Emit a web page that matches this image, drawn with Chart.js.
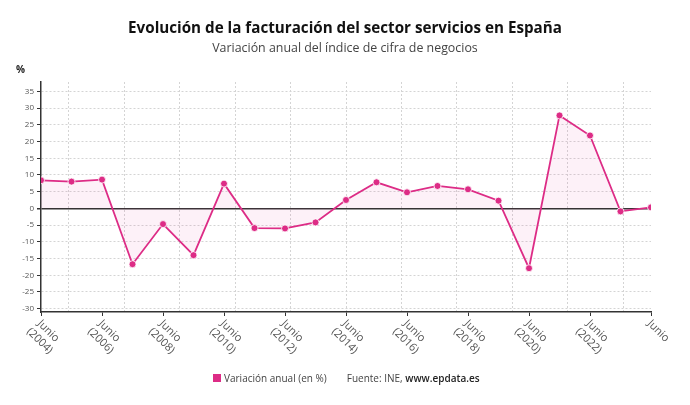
<!DOCTYPE html>
<html>
<head>
<meta charset="utf-8">
<script src="https://cdn.jsdelivr.net/npm/chart.js@4/dist/chart.umd.min.js"></script>
<style>
  body { margin: 0; background: #fff; font-family: "Open Sans", sans-serif; }
  #wrap { position: relative; width: 690px; height: 405px; }
  #title { position: absolute; top: 17px; left: 0; width: 690px; text-align: center;
           font-weight: 700; font-size: 15.2px; color: #111; }
  #subtitle { position: absolute; top: 39px; left: 0; width: 690px; text-align: center;
              font-size: 12.4px; color: #444; }
  #footer { position: absolute; top: 371px; left: 213px; font-size: 10px; color: #444;
            display: flex; align-items: center; white-space: nowrap; }
  #footer .box { width: 8px; height: 8px; background: #dd2c86; margin-right: 3px; }
  #footer .src { margin-left: 20px; }
  #footer b { font-weight: 600; color: #222; }
</style>
</head>
<body>
<div id="wrap">
  <canvas id="chart" width="690" height="405"></canvas>
  <div id="title">Evolución de la facturación del sector servicios en España</div>
  <div id="subtitle">Variación anual del índice de cifra de negocios</div>
  <div id="footer"><span class="box"></span><span id="legendLabel"></span>
    <span class="src">Fuente: INE, <b>www.epdata.es</b></span></div>
</div>
<script>
// Datos
const years = [2004, 2005, 2006, 2007, 2008, 2009, 2010, 2011, 2012, 2013, 2014,
               2015, 2016, 2017, 2018, 2019, 2020, 2021, 2022, 2023, 2024];
const variacion = [8.4, 8.0, 8.6, -16.7, -4.7, -14.0, 7.4, -5.9, -6.0, -4.2, 2.5,
                   7.8, 4.8, 6.7, 5.7, 2.3, -17.9, 27.8, 21.8, -0.9, 0.3];
const seriesLabel = 'Variación anual (en %)';
const tickYears = [2004, 2006, 2008, 2010, 2012, 2014, 2016, 2018, 2020, 2022, 2024];
const tickLabels = [['Junio', '(2004)'], ['Junio', '(2006)'], ['Junio', '(2008)'],
                    ['Junio', '(2010)'], ['Junio', '(2012)'], ['Junio', '(2014)'],
                    ['Junio', '(2016)'], ['Junio', '(2018)'], ['Junio', '(2020)'],
                    ['Junio', '(2022)'], ['Junio']];
const yTicks = [-30, -25, -20, -15, -10, -5, 0, 5, 10, 15, 20, 25, 30, 35];

document.getElementById('legendLabel').textContent = seriesLabel;

const PINK = '#dd2c86';
const FONT = '"Open Sans", sans-serif';

// Etiquetas del eje X giradas 45º hacia abajo a la derecha
const xLabelsPlugin = {
    id: 'xLabels',
    afterDraw: function(chart) {
        const ctx = chart.ctx;
        const x = chart.scales.x;
        const base = x.top + 6;
        ctx.save();
        ctx.font = '11px ' + FONT;
        ctx.fillStyle = '#555';
        ctx.textAlign = 'left';
        ctx.textBaseline = 'top';
        tickYears.forEach((yr, i) => {
            const px = x.getPixelForValue(yr);
            ctx.save();
            ctx.translate(px + 2, base);
            ctx.rotate(Math.PI / 4);
            tickLabels[i].forEach((line, j) => {
                ctx.fillText(line, -j * 2, j * 13);
            });
            ctx.restore();
        });
        // unidad del eje Y
        ctx.font = 'bold 10px ' + FONT;
        ctx.fillStyle = '#222';
        ctx.textBaseline = 'middle';
        ctx.fillText('%', 16, 70);
        ctx.restore();
    }
};

new Chart(document.getElementById('chart').getContext('2d'), {
    type: 'line',
    data: {
        datasets: [{
            label: seriesLabel,
            data: years.map((y, i) => ({ x: y, y: variacion[i] })),
            borderColor: PINK,
            backgroundColor: 'rgba(230, 60, 150, 0.07)',
            borderWidth: 1.8,
            tension: 0,
            fill: 'origin',
            pointRadius: 3.5,
            pointBackgroundColor: PINK,
            pointBorderColor: '#fff',
            pointBorderWidth: 0.8
        }]
    },
    options: {
        responsive: false,
        animation: false,
        layout: { padding: { left: 0, right: 39, top: 82, bottom: 0 } },
        plugins: {
            legend: { display: false },
            title: { display: false },
            tooltip: { enabled: false }
        },
        scales: {
            x: {
                type: 'linear',
                min: 2004,
                max: 2024,
                afterBuildTicks: s => { s.ticks = tickYears.map(v => ({ value: v })); },
                afterFit: s => { s.height = 93; },
                ticks: { display: false },
                grid: { drawOnChartArea: false, drawTicks: true, tickLength: 4, tickColor: '#333', tickWidth: 1 },
                border: { color: '#333', width: 1.5 }
            },
            xg: {
                type: 'linear',
                position: 'bottom',
                min: 2004,
                max: 2024,
                afterBuildTicks: s => {
                    const t = [];
                    for (let k = 0; k < 11; k++) t.push({ value: 2004 + 20 * (k + 0.5) / 11 });
                    s.ticks = t;
                },
                afterFit: s => { s.height = 0; },
                ticks: { display: false },
                grid: { color: '#d4d4d4', lineWidth: 1, drawTicks: false },
                border: { display: false, dash: [2, 2] }
            },
            y: {
                min: -31,
                max: 37.8,
                afterBuildTicks: s => { s.ticks = yTicks.map(v => ({ value: v })); },
                afterFit: s => { s.width = 41; },
                ticks: {
                    font: { family: FONT, size: 8 },
                    color: '#555',
                    padding: 3
                },
                grid: {
                    color: c => (c.tick && c.tick.value === 0) ? '#333' : '#d4d4d4',
                    lineWidth: c => (c.tick && c.tick.value === 0) ? 1.5 : 1,
                    tickLength: 4,
                    tickColor: '#333'
                },
                border: {
                    color: '#333',
                    width: 1.5,
                    dash: c => (c.tick && c.tick.value === 0) ? [] : [2, 2]
                }
            }
        }
    },
    plugins: [xLabelsPlugin]
});
</script>
</body>
</html>
